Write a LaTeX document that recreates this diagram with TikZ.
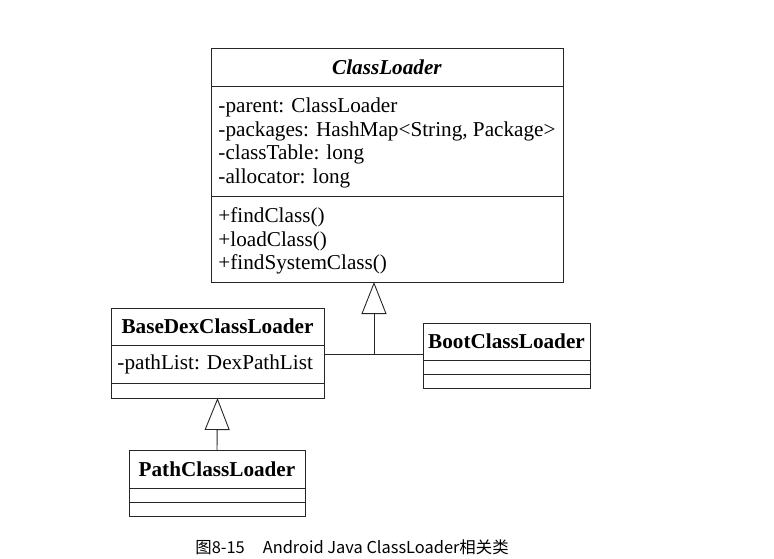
\documentclass[tikz,border=0pt]{standalone}
\usepackage{fontspec}
\setmainfont{Liberation Serif}
\newfontfamily\cjk{Noto Sans CJK SC}
\usetikzlibrary{arrows.meta}

\begin{document}
\begin{tikzpicture}[x=1pt,y=-1pt,line width=0.9pt,
	font=\fontsize{21.2}{23.8}\selectfont,
	cell/.style={draw=black!85, inner sep=0pt, outer sep=0pt, anchor=north west},
	member/.style={align=left, inner sep=0pt, anchor=west},
	gen/.style={draw=black!85, -{Triangle[open, length=32pt, width=25pt]}}]
		\useasboundingbox (0,0) rectangle (774,558);
		
		%ClassLoader
		\def\x{211}
		\def\w{352}
		\node[cell, minimum width=\w, minimum height=38] (CLname) at (\x,48) {\textbf{\textit{ClassLoader}}};
		\node[cell, minimum width=\w, minimum height=110] (CLattr) at (CLname.south west) {};
		\node[cell, minimum width=\w, minimum height=86] (CLop) at (CLattr.south west) {};
		\node[member] (CLattrtext) at ([xshift=7,yshift=-2]CLattr.west) {-parent: ClassLoader\\-packages: HashMap<String, Package>\\-classTable: long\\-allocator: long};
		\node[member] (CLoptext) at ([xshift=7,yshift=-2]CLop.west) {+findClass()\\+loadClass()\\+findSystemClass()};
		
		%BaseDexClassLoader
		\def\x{111}
		\def\w{213}
		\node[cell, minimum width=\w, minimum height=37] (BDname) at (\x,308) {\textbf{BaseDexClassLoader}};
		\node[cell, minimum width=\w, minimum height=38] (BDattr) at (BDname.south west) {};
		\node[cell, minimum width=\w, minimum height=15] (BDop) at (BDattr.south west) {};
		\node[member] (BDattrtext) at ([xshift=6]BDattr.west) {-pathList: DexPathList};
		
		%BootClassLoader
		\def\x{423}
		\def\w{167}
		\node[cell, minimum width=\w, minimum height=37] (Bootname) at (\x,323) {\textbf{BootClassLoader}};
		\node[cell, minimum width=\w, minimum height=14] (Bootattr) at (Bootname.south west) {};
		\node[cell, minimum width=\w, minimum height=14] (Bootop) at (Bootattr.south west) {};
		
		%PathClassLoader
		\def\x{129}
		\def\w{176}
		\node[cell, minimum width=\w, minimum height=38] (Pathname) at (\x,450) {\textbf{PathClassLoader}};
		\node[cell, minimum width=\w, minimum height=14] (Pathattr) at (Pathname.south west) {};
		\node[cell, minimum width=\w, minimum height=14] (Pathop) at (Pathattr.south west) {};
		
		%inheritance
		\coordinate (join) at (374,354);
		\draw[draw=black!85] (join -| BDattr.east) -- (join -| Bootname.west);
		\draw[gen] (join) -- (join |- CLop.south);
		\draw[gen] (Pathname.north) -- (BDop.south);
		
		%caption
		\node[font=\cjk\fontsize{16.4}{19}\selectfont] (caption) at (352,547) {图8-15\hspace{1.1em}Android Java ClassLoader相关类};
		
\end{tikzpicture}
\end{document}
